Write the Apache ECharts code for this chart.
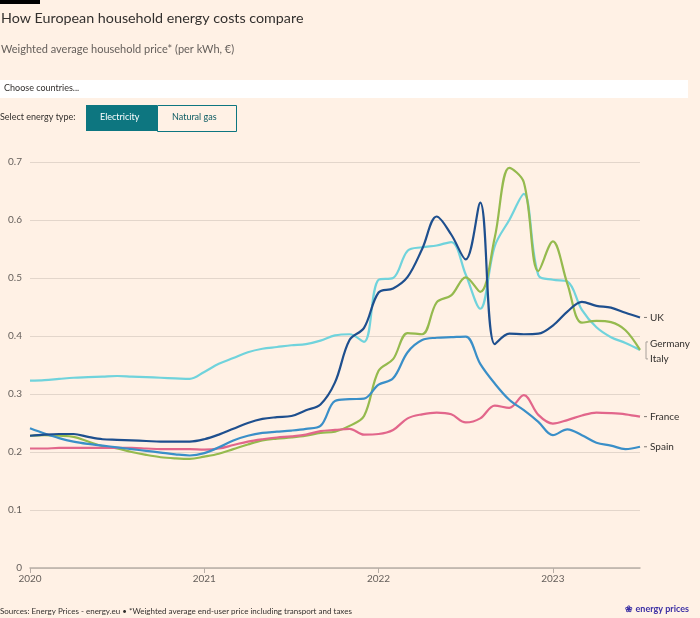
<!DOCTYPE html>
<html>
<head>
<meta charset="utf-8">
<script src="https://cdn.jsdelivr.net/npm/echarts@6/dist/echarts.min.js"></script>
<style>
html,body{margin:0;padding:0;background:#fff1e5;}
#main{width:700px;height:618px;}
</style>
</head>
<body>
<div id="main"></div>
<script>
// 月份 2020-01 .. 2023-07
var months=[];
for(var y=2020;y<=2023;y++){
	for(var m=1;m<=12;m++){
		if(y==2023&&m>7) break;
		months.push(y+'-'+(m>9?m:'0'+m));
	}
}
var yTicks=[0,0.1,0.2,0.3,0.4,0.5,0.6,0.7];

var ukData=[0.228,0.230,0.231,0.231,0.226,0.222,0.221,0.220,0.219,0.218,0.218,0.218,
	0.222,0.230,0.240,0.250,0.257,0.260,0.262,0.272,0.282,0.320,0.393,0.414,
	0.475,0.482,0.502,0.550,0.606,0.575,0.532,0.630,0.386,0.404,0.403,0.404,
	0.418,0.442,0.459,0.452,0.449,0.440,0.432];
var germanyData=[0.323,0.324,0.326,0.328,0.329,0.330,0.331,0.330,0.329,0.328,0.327,0.326,
	0.338,0.352,0.362,0.372,0.378,0.381,0.384,0.386,0.392,0.401,0.403,0.390,
	0.497,0.500,0.547,0.553,0.556,0.562,0.506,0.447,0.555,0.600,0.645,0.505,
	0.497,0.494,0.445,0.415,0.398,0.388,0.376];
var italyData=[0.228,0.229,0.228,0.226,0.218,0.210,0.206,0.200,0.195,0.191,0.189,0.188,
	0.192,0.197,0.205,0.213,0.220,0.223,0.225,0.228,0.233,0.235,0.245,0.262,
	0.340,0.360,0.405,0.403,0.458,0.470,0.501,0.476,0.570,0.690,0.665,0.512,
	0.563,0.490,0.423,0.426,0.424,0.410,0.376];
var franceData=[0.206,0.206,0.207,0.207,0.207,0.207,0.207,0.207,0.206,0.205,0.205,0.205,
	0.204,0.206,0.212,0.218,0.222,0.225,0.227,0.230,0.236,0.238,0.240,0.230,
	0.231,0.238,0.258,0.265,0.268,0.265,0.251,0.258,0.280,0.276,0.298,0.264,
	0.249,0.255,0.263,0.268,0.267,0.265,0.261];
var spainData=[0.241,0.232,0.224,0.218,0.214,0.211,0.208,0.205,0.202,0.199,0.196,0.194,
	0.198,0.208,0.220,0.228,0.233,0.235,0.237,0.240,0.245,0.288,0.291,0.292,
	0.316,0.327,0.372,0.393,0.397,0.398,0.399,0.352,0.318,0.290,0.272,0.252,
	0.229,0.239,0.229,0.216,0.211,0.205,0.209];

var countries=['UK','Germany','Italy','France','Spain'];
var colors=['#1e4f8e','#70d3dc','#95ba4e','#e2668b','#3a8fc8'];
var seriesData=[ukData,germanyData,italyData,franceData,spainData];
// 标签上下偏移（德国/意大利重叠）
var labelShift=[0,-6,9,0,0];

var font='Lato, "Noto Sans", sans-serif';
var myChart=echarts.init(document.getElementById('main'));

var seriesArr=[];
for(var i=0;i<countries.length;i++){
	seriesArr.push({
		name:countries[i],
		type:'line',
		data:seriesData[i],
		smooth:0.35,
		symbol:'none',
		lineStyle:{width:2.2,color:colors[i]},
		itemStyle:{color:colors[i]},
		z:i==0?5:3
	});
}

var option={
	backgroundColor:'#fff1e5',
	animation:false,
	textStyle:{fontFamily:font},
	title:{
		text:'How European household energy costs compare',
		subtext:'Weighted average household price* (per kWh, €)',
		left:1,top:11,itemGap:19,padding:0,
		textStyle:{fontFamily:font,fontSize:14.3,fontWeight:'normal',color:'#33302e'},
		subtextStyle:{fontFamily:font,fontSize:11,color:'#66605c'}
	},
	grid:{left:30,right:60,top:162,bottom:50},
	xAxis:{
		type:'category',
		data:months,
		boundaryGap:false,
		axisLine:{lineStyle:{color:'#b8aea6',width:1.5}},
		axisTick:{
			interval:function(idx){return idx%12==0;},
			length:5,lineStyle:{color:'#b8aea6'}
		},
		axisLabel:{
			interval:function(idx){return idx%12==0;},
			formatter:function(v){return v.substring(0,4);},
			color:'#66605c',fontSize:10,fontFamily:font,margin:6
		},
		splitLine:{show:false}
	},
	yAxis:{
		type:'value',
		min:0,max:0.7,interval:0.1,
		axisLine:{show:false},
		axisTick:{show:false},
		axisLabel:{
			formatter:function(v){
				for(var k=0;k<yTicks.length;k++){
					if(Math.abs(yTicks[k]-v)<1e-6) return String(yTicks[k]);
				}
				return '';
			},
			color:'#66605c',fontSize:10,fontFamily:font,margin:8
		},
		splitLine:{lineStyle:{color:'#e3d6cb',width:1}}
	},
	series:seriesArr,
	graphic:[
		{type:'rect',left:0,top:0,shape:{width:40,height:4},style:{fill:'#000'}},
		{type:'rect',left:0,top:80,shape:{width:688,height:18},style:{fill:'#fff'}},
		{type:'text',left:4,top:84,style:{text:'Choose countries...',fontSize:9,fontFamily:font,fill:'#33302e'}},
		{type:'text',left:0,top:113,style:{text:'Select energy type:',fontSize:9,fontFamily:font,fill:'#33302e'}},
		{type:'rect',left:86,top:105,shape:{width:71,height:26},style:{fill:'#0d7680'}},
		{type:'text',left:100,top:113,style:{text:'Electricity',fontSize:9,fontFamily:font,fill:'#fff'}},
		{type:'rect',left:157,top:105,shape:{width:79,height:26},style:{fill:'#fff1e5',stroke:'#0d7680',lineWidth:1}},
		{type:'text',left:172,top:113,style:{text:'Natural gas',fontSize:9,fontFamily:font,fill:'#0d5c63'}},
		{type:'text',left:0,top:607,style:{text:'Sources: Energy Prices - energy.eu \u2022 *Weighted average end-user price including transport and taxes',fontSize:8,fontFamily:font,fill:'#33302e'}},
		{type:'text',right:11,top:605,style:{text:'\u2740 energy prices',fontSize:9,fontWeight:'bold',fontFamily:font,fill:'#3b2fa5'}}
	]
};
myChart.setOption(option);

// 右侧国家标签
function addEndLabels(){
	var last=months.length-1;
	var g=[];
	for(var i=0;i<countries.length;i++){
		var p=myChart.convertToPixel({seriesIndex:i},[last,seriesData[i][last]]);
		var ly=p[1]+labelShift[i];
		if(labelShift[i]==0){
			g.push({type:'line',shape:{x1:p[0]+4,y1:p[1],x2:p[0]+7,y2:p[1]},style:{stroke:'#807973',lineWidth:1}});
		}
		g.push({type:'text',x:p[0]+10,y:ly,style:{text:countries[i],fontSize:10,fontFamily:font,fill:'#33302e',verticalAlign:'middle'}});
	}
	// 德国/意大利括号
	var pg=myChart.convertToPixel({seriesIndex:1},[last,seriesData[1][last]]);
	g.push({type:'polyline',shape:{points:[[pg[0]+8,pg[1]-8],[pg[0]+6,pg[1]-8],[pg[0]+6,pg[1]+9],[pg[0]+8,pg[1]+9]]},style:{stroke:'#a8a09a',lineWidth:1,fill:null}});
	myChart.setOption({graphic:option.graphic.concat(g)});
}
addEndLabels();
</script>
</body>
</html>
